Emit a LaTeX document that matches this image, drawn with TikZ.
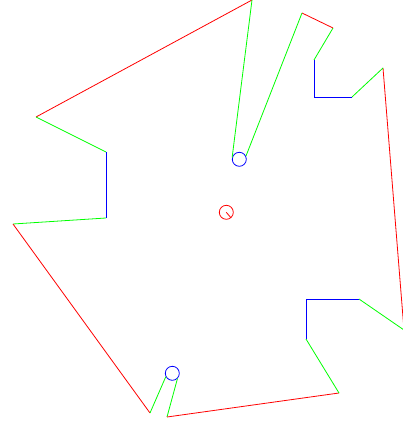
\documentclass[tikz,border=0pt]{standalone}
\usepackage{tikz}
\usepackage{xcolor}

\tikzset{
    edge/.style={line width=0.8pt},
    gate/.style={circle, draw=blue, line width=0.8pt, inner sep=0pt, minimum size=14pt},
}

\begin{document}
\begin{tikzpicture}[x=1pt, y=-1pt]
    \clip (0,0) rectangle (403,425);

    % openings
    \node[gate] (top) at (239.3,159.3) {};
    \node[gate] (bottom) at (172.3,373.3) {};

    % start point
    \node[circle, draw=red, line width=0.8pt, inner sep=0pt, minimum size=14pt] (start) at (226.3,212.3) {};
    \draw[red, edge] (start.center) -- (start.310);

    % outline
    \draw[red, edge] (252,0) -- (36,117);
    \draw[green, edge] (36,117) -- (106,152);
    \draw[blue, edge] (106,152) -- (106,218);
    \draw[green, edge] (106,218) -- (13,224);
    \draw[red, edge] (13,224) -- (150,413);
    \draw[green, edge] (150,413) -- (bottom.208);
    \draw[green, edge] (bottom.314) -- (167,417);
    \draw[red, edge] (167,417) -- (339,393);
    \draw[green, edge] (339,393) -- (306,339);
    \draw[blue, edge] (306,339) -- (306,299) -- (359,299);
    \draw[green, edge] (359,299) -- (404,330);
    \draw[red, edge] (404,330) -- (383,68);
    \draw[green, edge] (383,68) -- (352,97);
    \draw[blue, edge] (352,97) -- (314,97) -- (314,60);
    \draw[green, edge] (314,60) -- (333,28);
    \draw[red, edge] (333,28) -- (302,13);
    \draw[green, edge] (302,13) -- (top.26);
    \draw[green, edge] (top.166) -- (252,0);
\end{tikzpicture}
\end{document}
